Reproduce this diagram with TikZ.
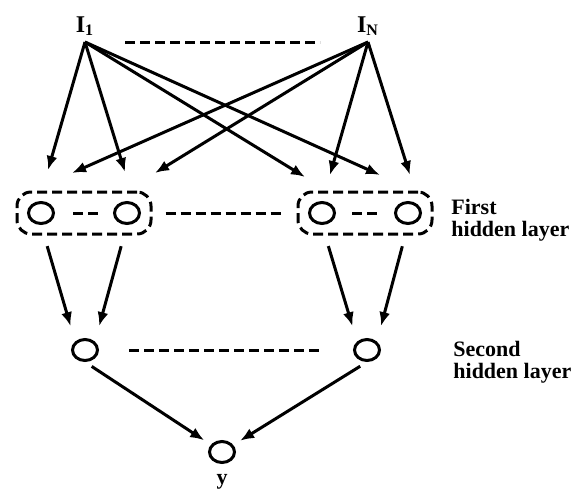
\documentclass[tikz,border=0pt]{standalone}
\usepackage{fontspec}
\setmainfont{Liberation Serif}
\usetikzlibrary{arrows.meta,shapes.geometric,fit,positioning}

\tikzset{
  unit/.style={ellipse, draw, line width=1.5pt, minimum width=12.5pt, minimum height=10.5pt, inner sep=0pt},
  layerbox/.style={draw, line width=1.5pt, dash pattern=on 5pt off 2.5pt, rounded corners=7pt, inner xsep=5pt, inner ysep=4.5pt},
  gap/.style={line width=1.5pt, dash pattern=on 5pt off 2.5pt},
  link/.style={line width=1.5pt, -{Latex[length=7pt,width=5.5pt]}},
  tag/.style={font=\bfseries\fontsize{11}{11}\selectfont, inner sep=0pt},
}

\begin{document}
\begin{tikzpicture}[x=0.5pt,y=-0.5pt]
\useasboundingbox (0,0) rectangle (574,495);

% inputs
\node[tag, font=\bfseries\fontsize{12}{12}\selectfont, inner sep=3pt, anchor=south] (in1) at (85,42) {I\textsubscript{1}};
\node[tag, font=\bfseries\fontsize{12}{12}\selectfont, inner sep=3pt, anchor=south] (inN) at (368,42) {I\textsubscript{N}};
\draw[gap, shorten <=20pt, shorten >=24pt] (in1.south) -- (inN.south);

% first hidden layer
\node[unit] (h1a) at (41,213) {};
\node[unit] (h1b) at (127,213) {};
\node[unit] (h1c) at (322,213) {};
\node[unit] (h1d) at (408,213) {};
\node[layerbox, fit=(h1a)(h1b)] (box1) {};
\node[layerbox, fit=(h1c)(h1d)] (box2) {};
\draw[gap, shorten <=9pt, shorten >=7pt] (h1a) -- (h1b);
\draw[gap, shorten <=8pt, shorten >=7pt] (h1c) -- (h1d);
\draw[gap, shorten <=6.5pt, shorten >=7.5pt] (box1) -- (box2);
\node[tag, anchor=west, align=left] (lab1) at (451,220) {First\\hidden layer};

% second hidden layer
\node[unit] (h2a) at (85,350) {};
\node[unit] (h2b) at (367,350) {};
\draw[gap, shorten <=15pt, shorten >=17pt] (h2a) -- (h2b);
\node[tag, anchor=west, align=left] (lab2) at (453,362) {Second\\hidden layer};

% output
\node[unit] (out) at (222,452) {};
\node[tag, below=5pt of out] (ylab) {y};

% arrow heads above the first layer
\coordinate (a1) at (48,170);
\coordinate (a2) at (125,172);
\coordinate (a3) at (305,177);
\coordinate (a4) at (380,175);
\coordinate (b1) at (72,173);
\coordinate (b2) at (155,173);
\coordinate (b3) at (330,175);
\coordinate (b4) at (410,175);

\draw[link] (in1.south) -- (a1);
\draw[link] (in1.south) -- (a2);
\draw[link] (in1.south) -- (a3);
\draw[link] (in1.south) -- (a4);
\draw[link] (inN.south) -- (b1);
\draw[link] (inN.south) -- (b2);
\draw[link] (inN.south) -- (b3);
\draw[link] (inN.south) -- (b4);

\draw[link, shorten <=11pt, shorten >=8pt] (h1a.south) -- (h2a.north west);
\draw[link, shorten <=11pt, shorten >=8pt] (h1b.south) -- (h2a.north east);
\draw[link, shorten <=11pt, shorten >=8pt] (h1c.south) -- (h2b.north west);
\draw[link, shorten <=11pt, shorten >=8pt] (h1d.south) -- (h2b.north east);

\draw[link, shorten <=4pt, shorten >=4pt] (h2a.south) -- (out);
\draw[link, shorten <=4pt, shorten >=4pt] (h2b.south) -- (out);
\end{tikzpicture}
\end{document}
